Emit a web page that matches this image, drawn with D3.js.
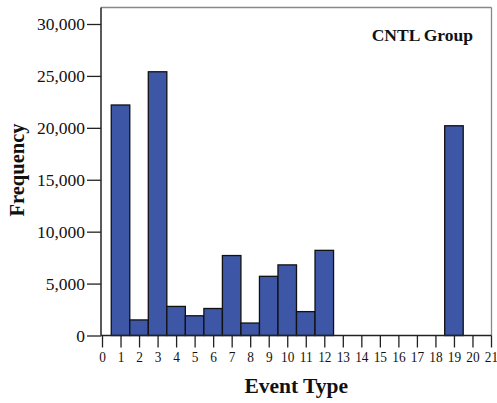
<!DOCTYPE html>
<html>
<head>
<meta charset="utf-8">
<script src="https://cdn.jsdelivr.net/npm/d3@7"></script>
<style>
  html, body { margin: 0; padding: 0; background: #fff; }
  svg { display: block; }
</style>
</head>
<body>
<svg id="chart" width="497" height="403"></svg>
<script>
// Event types and their frequency counts
const eventTypes = [1, 2, 3, 4, 5, 6, 7, 8, 9, 10, 11, 12, 19];
const frequencies = [22200, 1500, 25400, 2800, 1900, 2600, 7700, 1200, 5700, 6800, 2300, 8200, 20200];
const xTickValues = d3.range(0, 22);
const yTickValues = [0, 5000, 10000, 15000, 20000, 25000, 30000];
const groupLabel = "CNTL Group";

const serif = "Liberation Serif";
const svg = d3.select("#chart");
const frame = { left: 101, right: 491.5, top: 7.5, bottom: 335.5 };

const x = d3.scaleLinear().domain([0, 21]).range([102, 491]);
const y = d3.scaleLinear().domain([0, 30000]).range([335.5, 24]);

// Bars, one unit wide, centred on each event type
svg.append("g")
  .selectAll("rect")
  .data(eventTypes.map((t, i) => ({ t, v: frequencies[i] })))
  .join("rect")
  .attr("x", d => x(d.t - 0.5))
  .attr("width", d => x(d.t + 0.5) - x(d.t - 0.5))
  .attr("y", d => y(d.v))
  .attr("height", d => y(0) - y(d.v))
  .attr("fill", "#3d56a6")
  .attr("stroke", "#111")
  .attr("stroke-width", 1.3);

// Frame: light top/right edges, dark axes
svg.append("line")
  .attr("x1", frame.left).attr("x2", frame.right)
  .attr("y1", frame.top).attr("y2", frame.top)
  .attr("stroke", "#888").attr("stroke-width", 1.3);
svg.append("line")
  .attr("x1", frame.right).attr("x2", frame.right)
  .attr("y1", frame.top).attr("y2", frame.bottom)
  .attr("stroke", "#888").attr("stroke-width", 1.3);

// Y axis
const yAxis = svg.append("g")
  .attr("transform", `translate(${frame.left},0)`)
  .call(d3.axisLeft(y).tickValues(yTickValues).tickFormat(d3.format(",")).tickSize(14).tickPadding(2));
yAxis.select(".domain").remove();
yAxis.selectAll(".tick line").attr("stroke", "#222").attr("stroke-width", 1.3);
yAxis.selectAll(".tick text")
  .style("font-family", serif)
  .style("font-size", "17.5px")
  .attr("fill", "#111")
  .attr("dy", "0.34em");

// X axis
const xAxis = svg.append("g")
  .attr("transform", `translate(0,${frame.bottom})`)
  .call(d3.axisBottom(x).tickValues(xTickValues).tickFormat(d3.format("d")).tickSize(12).tickPadding(4));
xAxis.select(".domain").remove();
xAxis.selectAll(".tick line").attr("stroke", "#222").attr("stroke-width", 1.3);
xAxis.selectAll(".tick text")
  .style("font-family", serif)
  .style("font-size", "15.5px")
  .attr("fill", "#111")
  .attr("transform", "scale(0.86,1)");

svg.append("line")
  .attr("x1", frame.left).attr("x2", frame.left)
  .attr("y1", frame.top).attr("y2", frame.bottom)
  .attr("stroke", "#222").attr("stroke-width", 1.5);
svg.append("line")
  .attr("x1", frame.left).attr("x2", frame.right)
  .attr("y1", frame.bottom).attr("y2", frame.bottom)
  .attr("stroke", "#222").attr("stroke-width", 1.5);

// Axis titles
svg.append("text")
  .attr("x", (frame.left + frame.right) / 2)
  .attr("y", 392.5)
  .attr("text-anchor", "middle")
  .style("font-family", serif)
  .style("font-weight", "bold")
  .style("font-size", "21.5px")
  .attr("fill", "#111")
  .text("Event Type");

svg.append("text")
  .attr("transform", "translate(24,170) rotate(-90)")
  .attr("text-anchor", "middle")
  .style("font-family", serif)
  .style("font-weight", "bold")
  .style("font-size", "20.5px")
  .attr("fill", "#111")
  .text("Frequency");

// Group label
svg.append("text")
  .attr("x", 473)
  .attr("y", 41)
  .attr("text-anchor", "end")
  .style("font-family", serif)
  .style("font-weight", "bold")
  .style("font-size", "17.5px")
  .attr("fill", "#111")
  .text(groupLabel);
</script>
</body>
</html>
